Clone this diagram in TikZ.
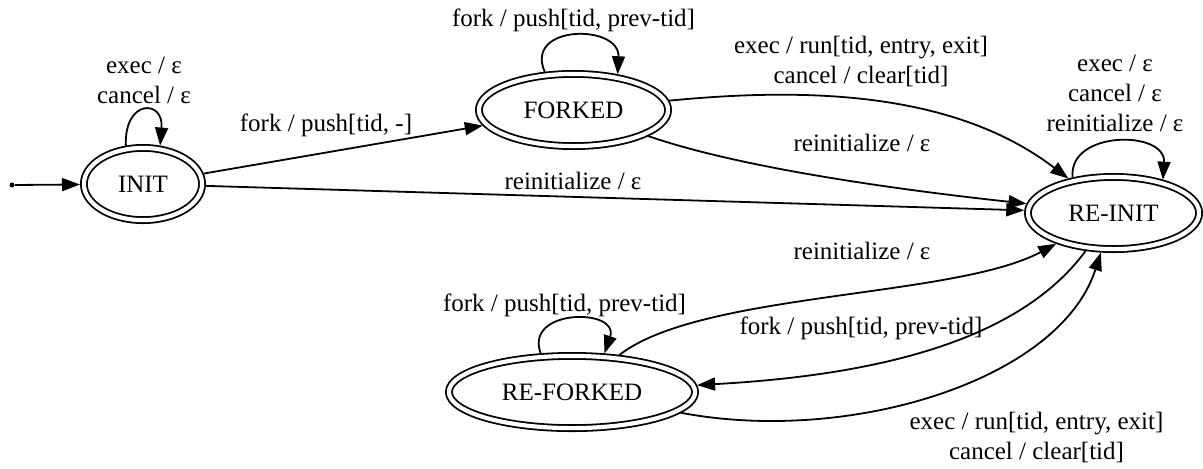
\documentclass[tikz,border=0pt]{standalone}
\usepackage{fontspec}
\setmainfont{Liberation Serif}
\usetikzlibrary{arrows.meta,shapes.geometric}
\begin{document}
\begin{tikzpicture}[x=0.5pt,y=-0.5pt,
  font=\fontsize{12.5}{15}\selectfont,
  state/.style={ellipse, draw, double, double distance=2.1pt, line width=0.9pt,
    inner sep=0pt, outer sep=1.95pt, minimum height=36.1pt},
  lbl/.style={align=center, inner sep=0pt},
  edge/.style={line width=0.9pt, -{Triangle[length=9pt,width=6.5pt]}},
]
\useasboundingbox (0,0) rectangle (1203,468);

% states
\node[state, minimum width=59.1pt]  (init)     at (143,184)    {INIT};
\node[state, minimum width=94.6pt]  (forked)   at (573.5,110)  {FORKED};
\node[state, minimum width=85.6pt]  (reinit)   at (1113.5,213) {RE-INIT};
\node[state, minimum width=123.1pt] (reforked) at (572,392)    {RE-FORKED};

% entry point
\node[circle, fill, inner sep=0pt, minimum size=2.5pt] (entry) at (12,185) {};

% transitions
\draw[edge] (entry) -- (init);
\draw[edge] (init) -- (forked);
\draw[edge] (init) -- (reinit);
\draw[edge] (forked) .. controls (809,87) and (955,92) .. (reinit);
\draw[edge] (forked) .. controls (740,168) and (900,190) .. (reinit);
\draw[edge] (reforked) .. controls (700,292) and (955,298) .. (reinit);
\draw[edge] (reinit) .. controls (1020,340) and (880,375) .. (reforked);
\draw[edge] (reforked) .. controls (850,445) and (1060,380) .. (reinit);

% self loops
\draw[edge] (init.114) .. controls (124,99) and (164,99) .. (init.66);
\draw[edge] (forked.127.5) .. controls (524,24) and (620,24) .. (forked.39);
\draw[edge] (reforked.129.7) .. controls (524,308) and (620,308) .. (reforked.50.3);
\draw[edge] (reinit.139) .. controls (1068,130) and (1166,130) .. (reinit.34.4);

% transition labels
\node[lbl] (l-init-loop) at (144,82) {\strut exec / ε\\\strut cancel / ε};
\node[lbl] (l-init-forked) at (326,125) {\strut fork / push[tid, -]};
\node[lbl] (l-init-reinit) at (573,183) {\strut reinitialize / ε};
\node[lbl] (l-forked-loop) at (573.5,20) {\strut fork / push[tid, prev-tid]};
\node[lbl] (l-forked-run) at (861,62) {\strut exec / run[tid, entry, exit]\\\strut cancel / clear[tid]};
\node[lbl] (l-forked-reinit) at (862,145) {\strut reinitialize / ε};
\node[lbl] (l-reinit-loop) at (1115,95) {\strut exec / ε\\\strut cancel / ε\\\strut reinitialize / ε};
\node[lbl] (l-reforked-reinit) at (862,253) {\strut reinitialize / ε};
\node[lbl] (l-reinit-reforked) at (861,328) {\strut fork / push[tid, prev-tid]};
\node[lbl] (l-reforked-loop) at (564.5,305) {\strut fork / push[tid, prev-tid]};
\node[lbl] (l-reforked-run) at (1036.5,438.5) {\strut exec / run[tid, entry, exit]\\\strut cancel / clear[tid]};
\end{tikzpicture}
\end{document}
